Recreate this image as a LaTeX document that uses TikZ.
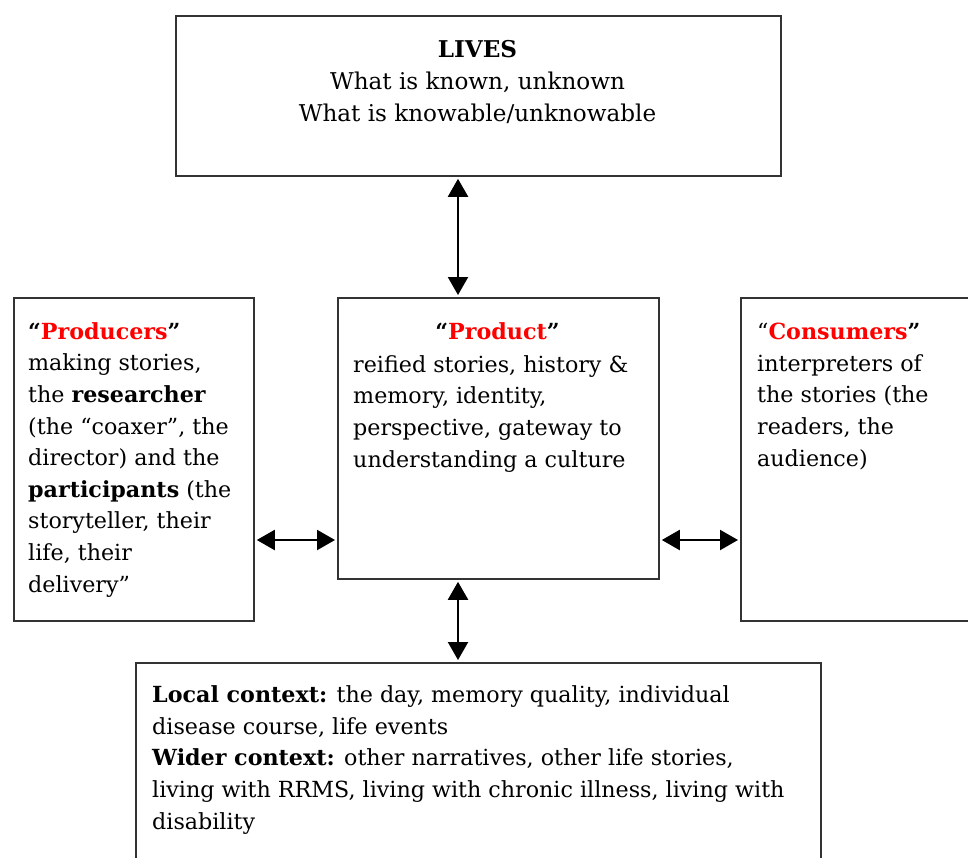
\documentclass[tikz,border=0pt]{standalone}
\usepackage{fontspec}
\setmainfont{DejaVu Serif}
\usetikzlibrary{arrows.meta}
\definecolor{boxgray}{HTML}{333333}
\definecolor{redtxt}{HTML}{FF0000}
\begin{document}
\begin{tikzpicture}[x=1pt,y=-1pt,
  box/.style={draw=boxgray, line width=1.8pt, anchor=north west, inner sep=0, fill=white},
  txt/.style={anchor=base west, align=left, inner sep=0, font=\fontsize{22.2}{31.6}\selectfont},
  txtc/.style={anchor=base, align=center, inner sep=0, font=\fontsize{22.2}{31.6}\selectfont},
  arr/.style={{Triangle[width=20pt,length=18pt]}-{Triangle[width=20pt,length=18pt]}, line width=2.2pt, shorten <=2pt, shorten >=2pt}]
\useasboundingbox (0,0) rectangle (968,857);
\clip (0,0) rectangle (968,857);
\node[box, minimum width=605, minimum height=160] (lives) at (175,15) {};
\node[box, minimum width=240, minimum height=323] (producers) at (13,297) {};
\node[box, minimum width=321, minimum height=281] (product) at (337,297) {};
\node[box, minimum width=240, minimum height=323] (consumers) at (740,297) {};
\node[box, minimum width=685, minimum height=220] (context) at (135,662) {};
\coordinate (ax) at (458,0);
\coordinate (ay) at (0,540);
\draw[arr] (lives.south -| ax) -- (product.north -| ax);
\draw[arr] (producers.east |- ay) -- (product.west |- ay);
\draw[arr] (product.east |- ay) -- (consumers.west |- ay);
\draw[arr] (product.south -| ax) -- (context.north -| ax);
% base anchor of a multi-line node = baseline of its last line
\node[txtc, font=\fontsize{23.1}{31.8}\selectfont] (livestxt) at (477.5,121) {\textbf{LIVES}\\What is known, unknown\\What is knowable/unknowable};
\node[txt] (producerstxt) at (28,592) {\textbf{“\textcolor{redtxt}{Producers}”}\\making stories,\\the \textbf{researcher}\\(the “coaxer”, the\\director) and the\\\textbf{participants} (the\\storyteller, their\\life, their\\delivery”};
\node[txtc] (producttitle) at (497.5,339) {\textbf{“\textcolor{redtxt}{Product}”}};
\node[txt] (producttxt) at (353,467) {reified stories, history \&\\memory, identity,\\perspective, gateway to\\understanding a culture};
\node[txt] (consumerstxt) at (757,466) {“\textbf{\textcolor{redtxt}{Consumers}”}\\interpreters of\\the stories (the\\readers, the\\audience)};
\node[txt] (contexttxt) at (152,829) {\textbf{Local context:} the day, memory quality, individual\\disease course, life events\\\textbf{Wider context:} other narratives, other life stories,\\living with RRMS, living with chronic illness, living with\\disability};
\end{tikzpicture}
\end{document}
